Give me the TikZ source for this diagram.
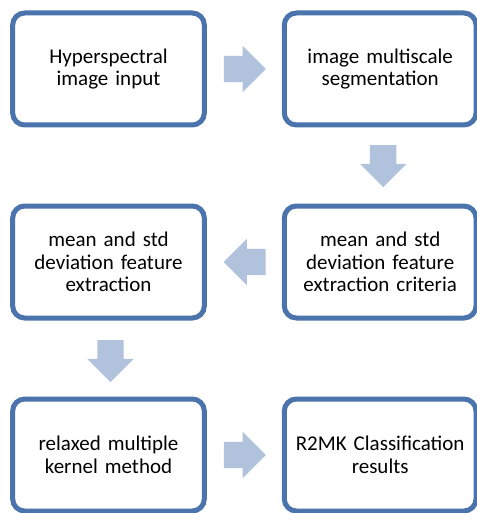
\documentclass[tikz,border=0pt]{standalone}
\usepackage{fontspec}
\setmainfont{Carlito}
\usetikzlibrary{positioning,calc,shapes.arrows}
\definecolor{frame}{HTML}{4A74AB}
\definecolor{pale}{HTML}{B1C2DD}

\begin{document}
\begin{tikzpicture}[
  node distance=76pt and 75pt,
  box/.style={draw=frame, line width=5pt, rounded corners=12pt, fill=white,
              align=center, font=\fontsize{21}{22.5}\selectfont,
              minimum width=191pt, minimum height=112pt, text width=185pt},
  blk/.style={single arrow, fill=pale, draw=none, inner xsep=0pt, inner ysep=13pt,
              minimum height=42pt, minimum width=46pt,
              single arrow head extend=10pt}]
  \useasboundingbox (0,0) rectangle (476pt,-513pt);
  \node[box] (hsi) at (108.5pt,-69pt) {Hyperspectral\\image input};
  \node[box, right=of hsi] (seg) {image multiscale\\segmentation};
  \node[box, below=of seg] (crit) {mean and std\\deviation feature\\extraction criteria};
  \node[box, left=of crit] (feat) {mean and std\\deviation feature\\extraction};
  \node[box, below=of feat] (rmk) {relaxed multiple\\kernel method};
  \node[box, right=of rmk] (res) {R2MK Classification\\results};
  % block arrows between the boxes
  \node[blk] (a1) at ($(hsi.east)!0.5!(seg.west)+(-6pt,0)$) {};
  \node[blk, rotate=-90] (a2) at ($(seg.south)!0.5!(crit.north)+(3pt,6pt)$) {};
  \node[blk, rotate=180] (a3) at ($(crit.west)!0.5!(feat.east)+(7pt,0)$) {};
  \node[blk, rotate=-90] (a4) at ($(feat.south)!0.5!(rmk.north)+(2pt,4pt)$) {};
  \node[blk] (a5) at ($(rmk.east)!0.5!(res.west)+(-6pt,0)$) {};
\end{tikzpicture}
\end{document}
